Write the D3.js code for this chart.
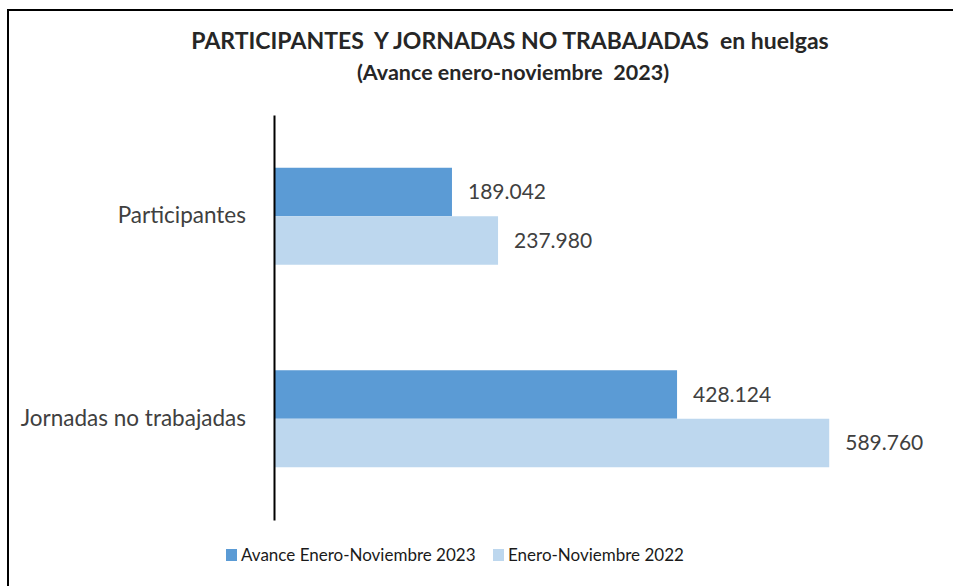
<!DOCTYPE html>
<html>
<head>
<meta charset="utf-8">
<script src="https://cdn.jsdelivr.net/npm/d3@7"></script>
<style>
  body { margin: 0; background: #fff; }
  svg { display: block; font-family: Lato, "Open Sans", sans-serif; }
</style>
</head>
<body>
<div id="chart"></div>
<script>
// data
var categories = ["Participantes", "Jornadas no trabajadas"];
var seriesNames = ["Avance Enero-Noviembre 2023", "Enero-Noviembre 2022"];
var values2023 = [189042, 428124];
var values2022 = [237980, 589760];
var valueLabels2023 = ["189.042", "428.124"];
var valueLabels2022 = ["237.980", "589.760"];

var width = 953, height = 586;
var colors = ["#5b9bd5", "#bdd7ee"];

var svg = d3.select("#chart").append("svg")
  .attr("width", width)
  .attr("height", height);

// outer frame
svg.append("rect")
  .attr("x", 8).attr("y", 10)
  .attr("width", 960).attr("height", 600)
  .attr("fill", "none")
  .attr("stroke", "#000")
  .attr("stroke-width", 2);

// title
svg.append("text")
  .attr("x", 510).attr("y", 49)
  .attr("text-anchor", "middle")
  .attr("font-weight", "bold")
  .attr("font-size", 23)
  .attr("fill", "#262626")
  .attr("xml:space", "preserve")
  .text("PARTICIPANTES  Y JORNADAS NO TRABAJADAS  en huelgas");

svg.append("text")
  .attr("x", 513).attr("y", 80)
  .attr("text-anchor", "middle")
  .attr("font-weight", "bold")
  .attr("font-size", 21.5)
  .attr("fill", "#262626")
  .attr("xml:space", "preserve")
  .text("(Avance enero-noviembre  2023)");

var x = d3.scaleLinear().domain([0, 700000]).range([274, 933]);
var y0 = d3.scaleBand().domain(categories).range([115, 520]);
var groupH = 97;
var y1 = d3.scaleBand().domain(seriesNames)
  .range([(y0.bandwidth() - groupH) / 2, (y0.bandwidth() + groupH) / 2]);

var rows = categories.map(function (c, i) {
  return {
    cat: c,
    bars: [
      { s: seriesNames[0], v: values2023[i], lab: valueLabels2023[i] },
      { s: seriesNames[1], v: values2022[i], lab: valueLabels2022[i] }
    ]
  };
});

var groups = svg.selectAll(".grp")
  .data(rows)
  .enter().append("g")
  .attr("class", "grp")
  .attr("transform", function (d) { return "translate(0," + y0(d.cat) + ")"; });

groups.selectAll("rect")
  .data(function (d) { return d.bars; })
  .enter().append("rect")
  .attr("x", x(0))
  .attr("y", function (d) { return y1(d.s); })
  .attr("width", function (d) { return x(d.v) - x(0); })
  .attr("height", y1.bandwidth())
  .attr("fill", function (d, i) { return colors[i]; });

groups.selectAll(".lab")
  .data(function (d) { return d.bars; })
  .enter().append("text")
  .attr("class", "lab")
  .attr("x", function (d) { return x(d.v) + 16; })
  .attr("y", function (d) { return y1(d.s) + y1.bandwidth() / 2; })
  .attr("dy", "0.35em")
  .attr("font-size", 21)
  .attr("fill", "#404040")
  .text(function (d) { return d.lab; });

// category axis
var yAxis = svg.append("g")
  .attr("transform", "translate(" + x(0) + ",0)")
  .call(d3.axisLeft(y0).tickSize(0).tickPadding(28));
yAxis.select(".domain").attr("stroke", "#000").attr("stroke-width", 2);
yAxis.selectAll("text")
  .attr("font-family", "Lato, 'Open Sans', sans-serif")
  .attr("font-size", 22.5)
  .attr("fill", "#404040");

// legend
var legend = svg.append("g");
var legX = [226, 493];
seriesNames.forEach(function (s, i) {
  legend.append("rect")
    .attr("x", legX[i]).attr("y", 549)
    .attr("width", 11).attr("height", 12)
    .attr("fill", colors[i]);
  legend.append("text")
    .attr("x", legX[i] + 15).attr("y", 555)
    .attr("dy", "0.35em")
    .attr("font-size", 17)
    .attr("fill", "#1a1a1a")
    .text(s);
});
</script>
</body>
</html>
